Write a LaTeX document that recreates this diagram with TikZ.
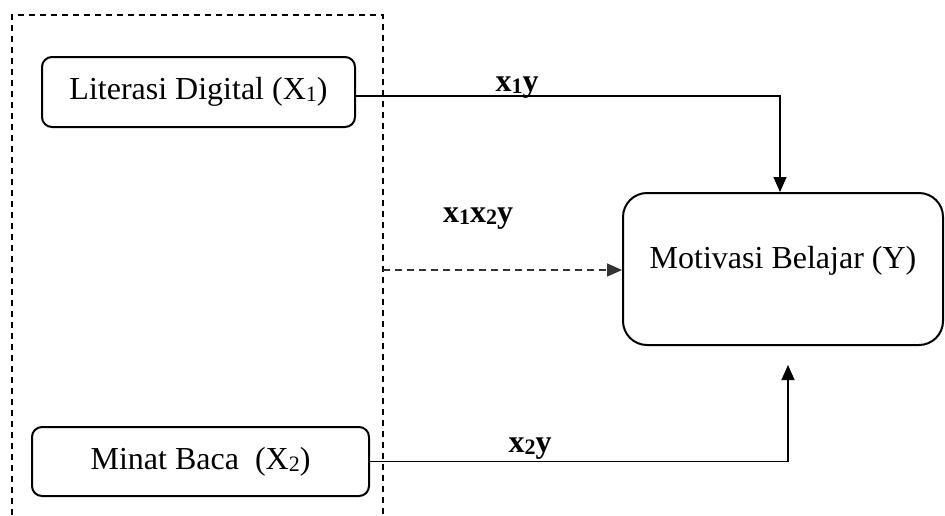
\documentclass[tikz,border=0pt]{standalone}
\usepackage{fontspec}
\setmainfont{Liberation Serif}
\usetikzlibrary{arrows.meta}

\newcommand{\lowsub}[1]{\raisebox{-1pt}{\fontsize{11}{13}\selectfont #1}}

\begin{document}
\begin{tikzpicture}[
        x=0.5pt,
        y=-0.5pt,
        block/.style={
            rectangle,
            draw,
            line width=1pt,
            rounded corners=5pt,
            align=center,
            inner sep=0pt,
            font=\fontsize{16}{19}\selectfont
        },
        arrow/.style={
            -{Triangle[length=7.5pt,width=6.5pt]},
            line width=0.55pt
        },
        path/.style={
            font=\fontsize{16}{19}\selectfont\bfseries,
            inner sep=0pt
        }
    ]

        \useasboundingbox (0,0) rectangle (945,515);

        % dashed frame round both inputs
        \draw[dash pattern=on 3pt off 2.5pt, line width=0.7pt] (12,515) -- (12,15) -- (383,15) -- (383,515);

        \node[block, minimum width=156.5pt, minimum height=35pt] (lit) at (198.5,92) {Literasi Digital (X\lowsub{1})};
        \node[block, minimum width=168.5pt, minimum height=34.5pt] (minat) at (200.5,461.5) {Minat Baca\ \ (X\lowsub{2})};
        \node[block, rounded corners=12pt, minimum width=160pt, minimum height=76pt, text depth=12pt] (motiv) at (783,269) {Motivasi Belajar (Y)};

        \coordinate (joint) at (383,270);
        \coordinate (below) at (788,365);

        \draw[arrow] ([yshift=-2pt]lit.east) -| ([xshift=-1.5pt]motiv.north);
        \draw[arrow, dash pattern=on 3.5pt off 2.5pt, black!80, line width=0.65pt] (joint) -- (motiv.west |- joint);
        \draw[arrow] (minat.east) -| (below);

        \node[path] (l1) at (517,88) {x\lowsub{1}y};
        \node[path] (l12) at (478,219) {x\lowsub{1}x\lowsub{2}y};
        \node[path] (l2) at (530,449) {x\lowsub{2}y};

    \end{tikzpicture}
\end{document}
